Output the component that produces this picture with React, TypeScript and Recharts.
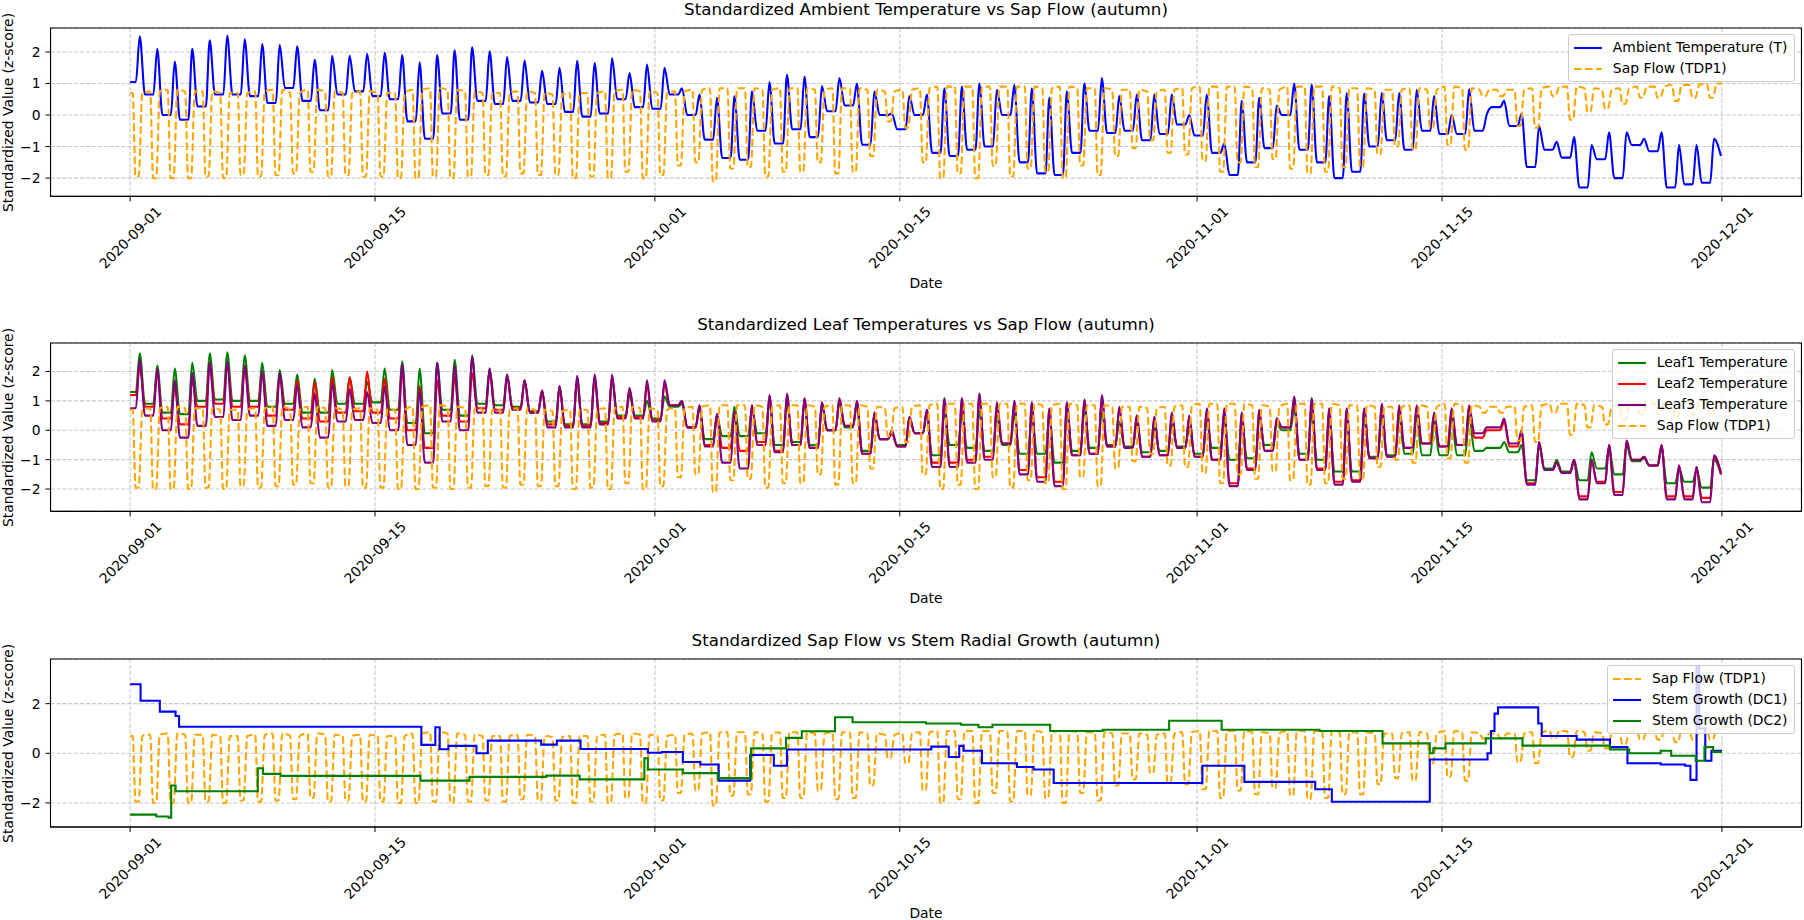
import { CartesianGrid, Line, LineChart, ReferenceArea, XAxis, YAxis } from "recharts";

// x is measured in days since 2020-09-01 00:00
const tickDays = [0, 14, 30, 44, 61, 75, 91];
const tickLabels = ["2020-09-01", "2020-09-15", "2020-10-01", "2020-10-15", "2020-11-01", "2020-11-15", "2020-12-01"];

// ambient temperature (T): morning low and afternoon high of each day
const ambientLow = [
  1.05, 0.65, 0.0, -0.15, 0.27, 0.65, 0.65, 0.6, 0.38, 0.86,
  0.45, 0.15, 0.65, 0.75, 0.6, 0.5, -0.2, -0.75, 0.05, -0.15,
  0.45, 0.35, 0.45, 0.4, 0.35, 0.1, -0.05, 0.05, 0.5, 0.25,
  0.2, 0.65, 0.0, -0.78, -1.36, -1.42, -0.5, -0.9, -0.45, -0.7,
  0.12, 0.3, -0.94, 0.0, -0.45, 0.0, -1.2, -1.3, -1.1, -1.0,
  0.0, -1.5, -1.85, -1.9, -1.2, -0.5, -0.57, -0.5, -0.8, -0.6,
  -0.3, -0.65, -1.2, -1.9, -1.5, -1.05, 0.0, -1.1, -1.5, -2.0,
  -1.8, -1.0, -0.8, -1.1, -0.5, -0.6, -0.6, -0.5, 0.25, -0.35,
  -1.65, -1.1, -1.35, -2.3, -1.4, -2.0, -0.95, -1.15, -2.3, -2.2,
  -2.15,
];
const ambientHigh = [
  2.5, 2.1, 1.7, 2.1, 2.37, 2.52, 2.4, 2.25, 2.23, 2.18,
  1.75, 1.88, 1.88, 1.94, 1.97, 1.9, 1.67, 1.9, 2.05, 2.15,
  2.02, 1.85, 1.73, 1.4, 1.5, 1.72, 1.65, 1.8, 1.33, 1.6,
  1.5, 0.85, 0.65, 0.55, 0.6, 0.75, 1.05, 1.28, 1.22, 0.92,
  1.17, 1.0, 0.75, 0.05, 0.6, 0.65, 0.85, 0.9, 1.0, 0.8,
  0.95, 0.85, 0.55, 0.75, 1.0, 1.17, 0.6, 0.65, 0.65, 0.65,
  0.0, 0.65, -0.9, 0.45, 0.55, 0.3, 1.0, 0.97, 0.6, 0.7,
  0.68, 0.7, 0.7, 0.8, 0.6, 0.0, 0.82, 0.0, 0.45, 0.05,
  -0.35, -0.85, -0.7, -0.95, -0.55, -0.55, -0.75, -0.55, -0.95, -0.95,
  -0.75,
];

// sap flow (TDP1): night plateau and daytime dip of each day
const sapTop = [
  0.7, 0.75, 0.8, 0.75, 0.75, 0.7, 0.7, 0.75, 0.8, 0.7,
  0.8, 0.75, 0.7, 0.75, 0.7, 0.7, 0.8, 0.85, 0.8, 0.75,
  0.7, 0.7, 0.75, 0.7, 0.65, 0.7, 0.7, 0.75, 0.8, 0.75,
  0.7, 0.75, 0.8, 0.85, 0.85, 0.85, 0.8, 0.85, 0.85, 0.8,
  0.85, 0.85, 0.8, 0.75, 0.8, 0.85, 0.9, 0.9, 0.9, 0.9,
  0.9, 0.9, 0.85, 0.9, 0.85, 0.85, 0.8, 0.8, 0.75, 0.8,
  0.85, 0.9, 0.9, 0.9, 0.85, 0.8, 0.9, 0.9, 0.9, 0.85,
  0.85, 0.8, 0.8, 0.85, 0.8, 0.9, 0.85, 0.8, 0.8, 0.8,
  0.85, 0.9, 0.9, 0.85, 0.8, 0.85, 0.9, 0.9, 0.95, 0.95,
  1.0,
];
const sapDip = [
  -1.95, -2.0, -2.0, -2.0, -1.95, -2.0, -1.9, -1.95, -1.9, -1.85,
  -1.8, -1.95, -1.9, -1.95, -1.95, -2.0, -2.0, -1.95, -2.0, -1.95,
  -1.9, -1.95, -1.85, -1.9, -1.9, -2.0, -1.95, -2.0, -1.8, -2.0,
  -1.9, -1.6, -1.5, -2.1, -1.7, -1.65, -1.95, -1.8, -1.8, -1.5,
  -1.85, -1.8, -1.3, -0.2, -0.4, -1.5, -2.0, -1.85, -2.0, -1.6,
  -1.95, -1.7, -1.8, -2.0, -1.6, -1.9, -1.3, -1.05, -0.8, -1.2,
  -1.25, -1.45, -1.8, -1.5, -1.65, -1.4, -1.7, -1.85, -1.8, -1.65,
  -1.65, -1.25, -1.0, -1.1, -0.4, -0.95, -1.1, 0.6, 0.6, -0.35,
  -0.4, 0.6, -0.15, 0.1, 0.2, 0.35, 0.55, 0.55, 0.45, 0.55,
  0.55,
];

// leaf temperatures: morning low and afternoon high of each day
const leaf1Low = [
  1.3, 0.9, 0.6, 0.55, 1.0, 1.05, 1.0, 1.0, 0.8, 0.9,
  0.6, 0.6, 0.9, 0.9, 0.95, 0.7, 0.25, -0.1, 0.7, 0.5,
  0.9, 0.85, 0.8, 0.65, 0.3, 0.2, 0.2, 0.3, 0.5, 0.5,
  0.4, 0.8, 0.1, -0.3, -0.2, -0.2, -0.1, -0.5, -0.4, -0.5,
  0.0, 0.1, -0.7, -0.3, -0.5, -0.1, -0.85, -0.5, -0.6, -0.7,
  -0.5, -0.8, -0.8, -1.1, -0.7, -0.6, -0.5, -0.55, -0.75, -0.7,
  -0.55, -0.8, -0.6, -1.0, -0.95, -0.5, 0.0, -0.8, -1.0, -1.4,
  -1.4, -0.9, -0.85, -0.8, -0.85, -0.85, -0.85, -0.7, -0.6, -0.75,
  -1.7, -1.3, -1.4, -1.7, -1.3, -1.5, -1.05, -1.2, -1.8, -1.75,
  -1.95,
];
const leaf1High = [
  2.62, 2.2, 2.1, 2.3, 2.62, 2.65, 2.55, 2.3, 2.05, 1.9,
  1.75, 2.05, 1.8, 1.65, 2.1, 2.35, 2.1, 2.3, 2.4, 2.55,
  2.1, 1.9, 1.7, 1.35, 1.5, 1.75, 1.8, 1.75, 1.2, 1.0,
  1.15, 0.9, 0.75, 0.5, 0.8, 0.75, 1.0, 1.0, 0.95, 0.85,
  0.95, 0.9, 0.55, -0.1, 0.4, 0.55, 0.6, 0.55, 0.65, 0.5,
  0.55, 0.5, 0.45, 0.7, 0.7, 0.6, 0.3, 0.3, 0.1, 0.2,
  0.1, 0.3, 0.4, 0.3, 0.4, 0.2, 0.75, 0.6, 0.4, 0.3,
  0.4, 0.5, 0.5, 0.5, 0.3, 0.45, 0.5, -0.6, -0.4, -0.5,
  -0.5, -1.0, -1.0, -0.75, -0.6, -0.5, -0.95, -0.6, -1.3, -1.35,
  -1.0,
];
const leaf2Low = [
  1.2, 0.8, 0.4, 0.2, 0.8, 0.9, 0.8, 0.8, 0.5, 0.7,
  0.4, 0.3, 0.6, 0.65, 0.6, 0.4, 0.0, -0.6, 0.5, 0.3,
  0.75, 0.7, 0.75, 0.6, 0.2, 0.15, 0.15, 0.25, 0.45, 0.45,
  0.35, 0.85, 0.1, -0.5, -0.6, -0.7, -0.4, -0.7, -0.5, -0.6,
  0.0, 0.15, -0.8, -0.3, -0.55, -0.1, -1.1, -1.1, -1.0, -0.9,
  -0.45, -1.35, -1.6, -1.75, -0.85, -0.8, -0.55, -0.6, -0.9, -0.85,
  -0.6, -0.9, -1.0, -1.8, -1.3, -0.7, 0.1, -1.0, -1.3, -1.75,
  -1.7, -0.95, -0.9, -0.6, -0.45, -0.55, -0.5, -0.25, 0.0, -0.55,
  -1.8, -1.35, -1.45, -2.25, -1.75, -2.1, -1.0, -1.2, -2.25, -2.25,
  -2.3,
];
const leaf2High = [
  2.2, 2.0, 1.5, 1.7, 2.3, 2.3, 2.2, 2.0, 1.9, 1.7,
  1.65, 1.8, 1.8, 2.0, 1.75, 2.1, 1.5, 1.7, 1.8, 1.95,
  2.0, 1.85, 1.7, 1.35, 1.5, 1.75, 1.8, 1.8, 1.4, 1.55,
  1.6, 1.0, 0.85, 0.55, 0.65, 0.85, 1.15, 1.2, 1.05, 0.95,
  1.05, 0.95, 0.6, -0.1, 0.45, 0.7, 1.0, 1.0, 1.15, 0.9,
  0.95, 0.9, 0.7, 0.9, 1.0, 1.1, 0.75, 0.5, 0.45, 0.55,
  0.45, 0.7, 0.7, 0.55, 0.65, 0.4, 1.05, 1.0, 0.7, 0.7,
  0.7, 0.85, 0.8, 0.8, 0.55, 0.7, 0.8, 0.0, 0.3, -0.1,
  -0.4, -1.1, -1.0, -1.0, -0.5, -0.35, -0.9, -0.5, -1.2, -1.25,
  -0.9,
];
const leaf3Low = [
  0.75, 0.5, 0.0, -0.25, 0.15, 0.45, 0.35, 0.5, 0.15, 0.35,
  0.1, -0.25, 0.3, 0.35, 0.25, 0.0, -0.5, -1.1, 0.3, 0.0,
  0.6, 0.6, 0.7, 0.6, 0.1, 0.1, 0.1, 0.2, 0.4, 0.4,
  0.3, 0.85, 0.1, -0.55, -1.1, -1.3, -0.5, -0.75, -0.5, -0.6,
  0.0, 0.15, -0.8, -0.3, -0.55, -0.1, -1.25, -1.25, -1.1, -1.0,
  -0.45, -1.5, -1.75, -1.9, -0.85, -0.8, -0.55, -0.6, -0.9, -0.85,
  -0.6, -0.9, -1.0, -1.9, -1.35, -0.7, 0.1, -1.0, -1.35, -1.85,
  -1.75, -0.95, -0.9, -0.6, -0.45, -0.55, -0.5, -0.1, 0.1, -0.45,
  -1.85, -1.35, -1.45, -2.35, -1.8, -2.2, -1.0, -1.2, -2.35, -2.35,
  -2.45,
];
const leaf3High = [
  2.4, 2.1, 1.7, 1.95, 2.3, 2.35, 2.2, 2.0, 1.95, 1.55,
  1.25, 1.6, 1.4, 1.3, 1.5, 2.25, 1.4, 2.3, 2.2, 2.5,
  2.1, 1.9, 1.7, 1.35, 1.5, 1.85, 1.9, 1.9, 1.45, 1.7,
  1.7, 1.0, 0.85, 0.55, 0.6, 0.85, 1.2, 1.25, 1.1, 0.95,
  1.1, 1.0, 0.6, 0.0, 0.45, 0.7, 1.1, 1.1, 1.25, 0.95,
  1.0, 0.95, 0.75, 0.95, 1.05, 1.2, 0.8, 0.5, 0.45, 0.6,
  0.5, 0.75, 0.75, 0.6, 0.7, 0.4, 1.15, 1.1, 0.75, 0.75,
  0.75, 0.9, 0.85, 0.85, 0.6, 0.75, 0.85, 0.1, 0.4, 0.0,
  -0.4, -1.1, -1.0, -1.0, -0.5, -0.35, -0.9, -0.5, -1.2, -1.25,
  -0.85,
];

// stem radial growth: level changes (day, value)
const dc1Days = [0, 0.6, 1.7, 2.6, 2.8, 16.65, 17.45, 17.7, 18.2, 19.8, 20.45, 23.5, 24.4, 25.75, 29.6, 30.4, 31.6, 32.6, 33.65, 35.45, 36.8, 37.55, 45.8, 46.8, 47.4, 47.65, 48.7, 50.7, 51.65, 52.8, 61.3, 63.7, 67.75, 68.7, 74.3, 77.6, 77.8, 78.0, 78.2, 80.5, 80.7, 82.7, 84.6, 85.6, 87.5, 88.9, 89.2, 89.55, 89.7, 90.05, 90.4, 91];
const dc1Values = [2.78, 2.12, 1.68, 1.5, 1.07, 0.34, 1.05, 0.16, 0.3, 0.0, 0.51, 0.35, 0.51, 0.17, 0.02, 0.05, -0.35, -0.45, -1.1, -0.07, -0.5, 0.15, 0.27, -0.15, 0.3, 0.1, -0.4, -0.55, -0.65, -1.2, -0.5, -1.15, -1.45, -1.95, -0.25, 0.0, 0.9, 1.6, 1.85, 1.2, 0.7, 0.55, 0.25, -0.4, -0.45, -0.5, -1.07, 3.5, 1.0, -0.3, 0.1, 0.1];
const dc2Days = [0, 1.5, 2.2, 2.35, 2.6, 7.3, 7.6, 8.6, 16.6, 19.4, 23.8, 25.7, 29.4, 29.6, 31.6, 33.6, 35.5, 37.5, 38.4, 40.3, 41.3, 45.5, 47.5, 48.5, 49.3, 52.6, 55.6, 59.4, 62.4, 68.0, 71.6, 74.3, 74.5, 75.2, 77.5, 79.6, 84.6, 85.7, 87.5, 88.1, 89.5, 90.0, 90.5, 91];
const dc2Values = [-2.47, -2.55, -2.6, -1.3, -1.53, -0.6, -0.83, -0.91, -1.1, -0.95, -0.9, -1.05, -0.2, -0.65, -0.8, -1.0, 0.2, 0.62, 0.89, 1.45, 1.25, 1.2, 1.15, 1.05, 1.15, 0.9, 0.95, 1.31, 0.95, 0.9, 0.4, 0.0, 0.2, 0.4, 0.6, 0.31, 0.15, 0.0, 0.1, -0.1, -0.3, 0.25, 0.05, 0.05];

const FONT = "'DejaVu Sans', sans-serif";
const W = 1804;
const PLOT_LEFT = 50.5;
const PLOT_RIGHT = 1801.5;
const X_DOMAIN: [number, number] = [-4.55, 95.55];
const LW = 2.08;

type Pt = { t: number; v: number };

// one row per reading: low held through the night, then the afternoon high
function dailyCurve(low: number[], high: number[], end: number): Pt[] {
  const pts: Pt[] = [];
  low.forEach((lo, d) => {
    pts.push({ t: d === 0 ? 0 : d - 0.15, v: lo });
    pts.push({ t: d + 0.33, v: lo });
    pts.push({ t: d + 0.55, v: high[d] });
  });
  pts.push({ t: 90.95, v: end });
  return pts;
}

function sapCurve(): Pt[] {
  const pts: Pt[] = [{ t: 0, v: sapTop[0] }];
  sapTop.forEach((top, d) => {
    pts.push({ t: d + 0.15, v: top });
    pts.push({ t: d + 0.31, v: sapDip[d] });
    pts.push({ t: d + 0.49, v: sapDip[d] });
    pts.push({ t: d + 0.7, v: top });
  });
  pts.push({ t: 91, v: sapTop[sapTop.length - 1] });
  return pts;
}

const steps = (days: number[], vals: number[]): Pt[] => days.map((t, i) => ({ t, v: vals[i] }));

const ambient = dailyCurve(ambientLow, ambientHigh, -1.3);
const sap = sapCurve();
const leaf1 = dailyCurve(leaf1Low, leaf1High, -1.5);
const leaf2 = dailyCurve(leaf2Low, leaf2High, -1.5);
const leaf3 = dailyCurve(leaf3Low, leaf3High, -1.45);
const dc1 = steps(dc1Days, dc1Values);
const dc2 = steps(dc2Days, dc2Values);

const fmtY = (v: number) => (v < 0 ? "\u2212" + Math.abs(v) : String(v));

function DateTick(props: any) {
  const { x, y, payload } = props;
  const label = tickLabels[tickDays.indexOf(payload.value)];
  const cy = y + 34;
  return (
    <text x={x} y={cy} transform={`rotate(-45 ${x} ${cy})`} textAnchor="middle" dominantBaseline="central"
      fontSize={13.9} fontFamily={FONT} fill="#000">
      {label}
    </text>
  );
}

function Panel(props: any) {
  const { plotTop, plotBottom, yDomain, yTicks, children } = props;
  const mTop = 20;
  const axisH = 80;
  const height = mTop + (plotBottom - plotTop) + axisH + 2;
  return (
    <div style={{ position: "absolute", left: 0, top: plotTop - mTop }}>
      <LineChart width={W} height={height} margin={{ top: mTop, right: W - PLOT_RIGHT, bottom: 2, left: 0 }}>
        <CartesianGrid stroke="#b0b0b0" strokeOpacity={0.7} strokeDasharray="4.1 1.8" strokeWidth={1.1} />
        <XAxis type="number" dataKey="t" domain={X_DOMAIN} ticks={tickDays} interval={0} allowDataOverflow
          height={axisH} tickSize={5} stroke="#000" tick={(p: any) => <DateTick {...p} />} />
        <YAxis type="number" domain={yDomain} ticks={yTicks} interval={0} allowDataOverflow width={PLOT_LEFT}
          tickSize={5} tickMargin={5} stroke="#000" tickFormatter={fmtY}
          tick={{ fontSize: 13.9, fill: "#000", fontFamily: FONT }} />
        <ReferenceArea x1={X_DOMAIN[0]} x2={X_DOMAIN[1]} y1={yDomain[0]} y2={yDomain[1]}
          fill="none" stroke="#000" strokeWidth={1.1} />
        {children}
      </LineChart>
    </div>
  );
}

function LegendBox(props: any) {
  const { top, items } = props;
  return (
    <div style={{
      position: "absolute", top, right: W - (PLOT_RIGHT - 7), background: "rgba(255,255,255,0.8)",
      border: "1px solid #cccccc", borderRadius: 3, padding: "2px 6px 2px 5px",
      fontFamily: FONT, fontSize: 13.9, lineHeight: "21px", color: "#000",
    }}>
      {items.map((it: any) => (
        <div key={it.label} style={{ display: "flex", alignItems: "center", height: 21, whiteSpace: "nowrap" }}>
          <svg width={28} height={10} style={{ marginRight: 11 }}>
            <line x1={0} x2={28} y1={5} y2={5} stroke={it.color} strokeWidth={LW}
              strokeDasharray={it.dashed ? "7.7 3.3" : undefined} />
          </svg>
          <span>{it.label}</span>
        </div>
      ))}
    </div>
  );
}

const sapLine = (key: string) => (
  <Line key={key} data={sap} dataKey="v" type="monotone" stroke="orange" strokeWidth={LW}
    strokeDasharray="7.7 3.3" dot={false} activeDot={false} isAnimationActive={false} />
);

const tempLine = (data: Pt[], color: string) => (
  <Line data={data} dataKey="v" type="monotone" stroke={color} strokeWidth={LW}
    dot={false} activeDot={false} isAnimationActive={false} />
);

const panels = [
  { plotTop: 28.3, plotBottom: 196.7, title: "Standardized Ambient Temperature vs Sap Flow (autumn)" },
  { plotTop: 343.3, plotBottom: 511.7, title: "Standardized Leaf Temperatures vs Sap Flow (autumn)" },
  { plotTop: 659.3, plotBottom: 827.3, title: "Standardized Sap Flow vs Stem Radial Growth (autumn)" },
];

export default function App() {
  const cx = (PLOT_LEFT + PLOT_RIGHT) / 2;
  return (
    <div style={{ position: "absolute", left: 0, top: 0, width: W, height: 920, background: "#fff", overflow: "hidden" }}>
      <Panel plotTop={28.3} plotBottom={196.7} yDomain={[-2.58, 2.76]} yTicks={[-2, -1, 0, 1, 2]}>
        {tempLine(ambient, "blue")}
        {sapLine("sap1")}
      </Panel>
      <Panel plotTop={343.3} plotBottom={511.7} yDomain={[-2.76, 2.97]} yTicks={[-2, -1, 0, 1, 2]}>
        {tempLine(leaf1, "green")}
        {tempLine(leaf2, "red")}
        {tempLine(leaf3, "purple")}
        {sapLine("sap2")}
      </Panel>
      <Panel plotTop={659.3} plotBottom={827.3} yDomain={[-2.97, 3.8]} yTicks={[-2, 0, 2]}>
        {sapLine("sap3")}
        <Line data={dc1} dataKey="v" type="stepAfter" stroke="blue" strokeWidth={LW} dot={false} activeDot={false} isAnimationActive={false} />
        <Line data={dc2} dataKey="v" type="stepAfter" stroke="green" strokeWidth={LW} dot={false} activeDot={false} isAnimationActive={false} />
      </Panel>

      <svg width={W} height={920} style={{ position: "absolute", left: 0, top: 0, pointerEvents: "none" }}>
        {panels.map((p) => (
          <g key={p.title} fontFamily={FONT} fill="#000">
            <text x={cx} y={p.plotTop - 13} textAnchor="middle" fontSize={16.7}>{p.title}</text>
            <text x={cx} y={p.plotBottom + 91} textAnchor="middle" fontSize={13.9}>Date</text>
            <text transform={`translate(8 ${(p.plotTop + p.plotBottom) / 2}) rotate(-90)`} textAnchor="middle"
              dominantBaseline="central" fontSize={13.9}>Standardized Value (z-score)</text>
          </g>
        ))}
      </svg>

      <LegendBox top={28.3 + 6} items={[
        { label: "Ambient Temperature (T)", color: "blue" },
        { label: "Sap Flow (TDP1)", color: "orange", dashed: true },
      ]} />
      <LegendBox top={343.3 + 6} items={[
        { label: "Leaf1 Temperature", color: "green" },
        { label: "Leaf2 Temperature", color: "red" },
        { label: "Leaf3 Temperature", color: "purple" },
        { label: "Sap Flow (TDP1)", color: "orange", dashed: true },
      ]} />
      <LegendBox top={659.3 + 6} items={[
        { label: "Sap Flow (TDP1)", color: "orange", dashed: true },
        { label: "Stem Growth (DC1)", color: "blue" },
        { label: "Stem Growth (DC2)", color: "green" },
      ]} />
    </div>
  );
}
